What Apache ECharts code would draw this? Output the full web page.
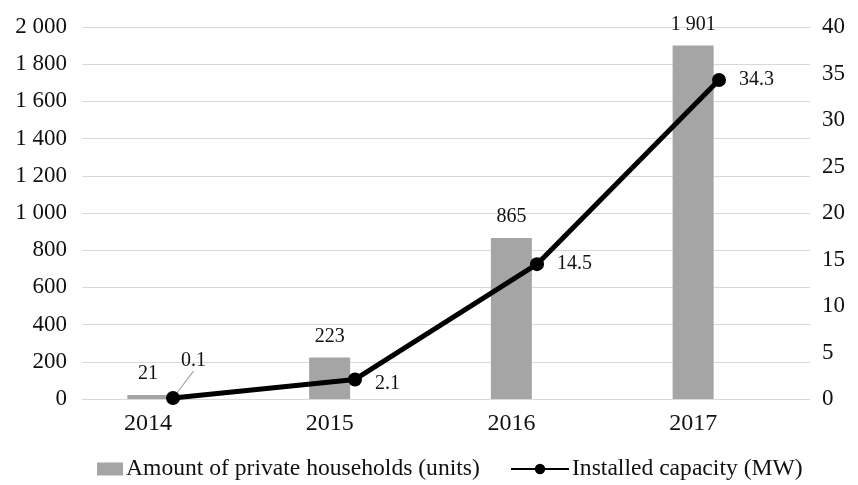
<!DOCTYPE html>
<html>
<head>
<meta charset="utf-8">
<script src="https://cdn.jsdelivr.net/npm/echarts@6/dist/echarts.min.js"></script>
<style>
  html, body { margin: 0; padding: 0; background: #fff; }
  #main { width: 858px; height: 485px; }
</style>
</head>
<body>
<div id="main"></div>
<script>
const years = ['2014', '2015', '2016', '2017'];
const households = [21, 223, 865, 1901];
const capacity = [0.1, 2.1, 14.5, 34.3];

const fmt = v => String(v).replace(/\B(?=(\d{3})+(?!\d))/g, ' ');
const font = 'Liberation Serif';

const chart = echarts.init(document.getElementById('main'));

const legendText = { fontFamily: font, fontSize: 23.6, color: '#111', padding: [0, 0, 0, -2] };

// grid 0: gridlines, y axes, line; grid 1: bars + year labels (shifted left like the original)
const option = {
  animation: false,
  textStyle: { fontFamily: font },
  grid: [
    { left: 82, right: 48, top: 27, bottom: 86 },
    { left: 57, right: 74, top: 27, bottom: 86 }
  ],
  legend: [
    {
      top: 457,
      left: 97,
      padding: 0,
      itemWidth: 26,
      itemHeight: 13,
      textStyle: legendText,
      data: [{ name: 'Amount of private households (units)', icon: 'rect' }]
    },
    {
      top: 457,
      left: 510,
      padding: 0,
      itemWidth: 58,
      itemHeight: 13,
      textStyle: legendText,
      data: [{ name: 'Installed capacity (MW)' }]
    }
  ],
  xAxis: [
    {
      type: 'category',
      gridIndex: 0,
      data: years,
      axisLine: { lineStyle: { color: '#d9d9d9', width: 1 } },
      axisTick: { show: false },
      axisLabel: { show: false }
    },
    {
      type: 'category',
      gridIndex: 1,
      data: years,
      axisLine: { show: false },
      axisTick: { show: false },
      axisLabel: { color: '#111', fontSize: 24, fontFamily: font, margin: 13 }
    }
  ],
  yAxis: [
    {
      type: 'value',
      gridIndex: 0,
      min: 0, max: 2000, interval: 200,
      axisLine: { show: false },
      axisTick: { show: false },
      splitLine: { lineStyle: { color: '#d9d9d9', width: 1 } },
      axisLabel: { color: '#111', fontSize: 23, fontFamily: font, margin: 15, formatter: fmt }
    },
    {
      type: 'value',
      gridIndex: 0,
      position: 'right',
      min: 0, max: 40, interval: 5,
      axisLine: { show: false },
      axisTick: { show: false },
      splitLine: { show: false },
      axisLabel: { color: '#111', fontSize: 23, fontFamily: font, margin: 12 }
    },
    {
      type: 'value',
      gridIndex: 1,
      min: 0, max: 2000, interval: 200,
      show: false
    }
  ],
  series: [
    {
      name: 'Amount of private households (units)',
      type: 'bar',
      xAxisIndex: 1,
      yAxisIndex: 2,
      data: households,
      barWidth: 41,
      itemStyle: { color: '#a5a5a5' },
      label: {
        show: true,
        position: 'top',
        distance: 11,
        color: '#111',
        fontSize: 20,
        fontFamily: font,
        formatter: p => fmt(p.value)
      }
    },
    {
      name: 'Installed capacity (MW)',
      type: 'line',
      xAxisIndex: 0,
      yAxisIndex: 1,
      z: 3,
      data: capacity.map((v, i) => ({ value: v, labelLine: { show: i === 0 } })),
      symbol: 'circle',
      symbolSize: 14,
      lineStyle: { color: '#000', width: 5 },
      itemStyle: { color: '#000' },
      labelLine: { lineStyle: { color: '#a5a5a5', width: 1.2 } },
      label: {
        show: true,
        position: 'right',
        distance: 13,
        color: '#111',
        fontSize: 20,
        fontFamily: font
      },
      labelLayout: p => {
        if (p.dataIndex === 0) return { dx: -12, dy: -37 };
        if (p.dataIndex === 1) return { dy: 4 };
        return {};
      }
    }
  ]
};

chart.setOption(option);
</script>
</body>
</html>
